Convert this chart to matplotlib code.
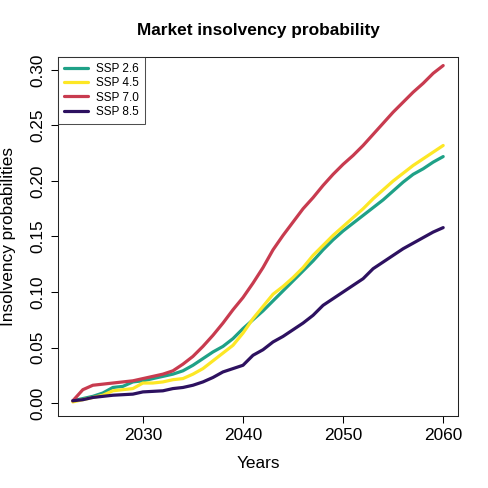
import matplotlib
matplotlib.use("Agg")
import matplotlib.pyplot as plt

plt.rcParams["font.family"] = ["Liberation Sans", "DejaVu Sans"]

years = list(range(2023, 2061))

ssp26 = [0.002, 0.004, 0.006, 0.009, 0.014, 0.015, 0.019, 0.020, 0.022, 0.024,
         0.026, 0.029, 0.034, 0.040, 0.046, 0.051, 0.058, 0.067, 0.075, 0.083,
         0.092, 0.101, 0.110, 0.119, 0.128, 0.138, 0.147, 0.155, 0.162, 0.169,
         0.176, 0.183, 0.191, 0.199, 0.206, 0.211, 0.217, 0.222]
ssp45 = [0.001, 0.003, 0.005, 0.007, 0.011, 0.012, 0.013, 0.018, 0.018, 0.019,
         0.021, 0.022, 0.026, 0.031, 0.038, 0.045, 0.052, 0.063, 0.076, 0.087,
         0.098, 0.105, 0.113, 0.122, 0.133, 0.142, 0.151, 0.159, 0.167, 0.175,
         0.184, 0.192, 0.200, 0.207, 0.214, 0.220, 0.226, 0.232]
ssp70 = [0.002, 0.012, 0.016, 0.017, 0.018, 0.019, 0.020, 0.022, 0.024, 0.026,
         0.029, 0.035, 0.042, 0.051, 0.061, 0.072, 0.084, 0.095, 0.108, 0.122,
         0.138, 0.151, 0.163, 0.175, 0.185, 0.196, 0.206, 0.215, 0.223, 0.232,
         0.242, 0.252, 0.262, 0.271, 0.280, 0.288, 0.297, 0.304]
ssp85 = [0.002, 0.003, 0.005, 0.006, 0.007, 0.0075, 0.008, 0.010, 0.0105, 0.011,
         0.013, 0.014, 0.016, 0.019, 0.023, 0.028, 0.031, 0.034, 0.043, 0.048,
         0.055, 0.060, 0.066, 0.072, 0.079, 0.088, 0.094, 0.100, 0.106, 0.112,
         0.121, 0.127, 0.133, 0.139, 0.144, 0.149, 0.154, 0.158]

series = [("SSP 2.6", ssp26, "#1FA187"),
          ("SSP 4.5", ssp45, "#FDE725"),
          ("SSP 7.0", ssp70, "#C83B4F"),
          ("SSP 8.5", ssp85, "#2D1160")]

x_ticks = [2030, 2040, 2050, 2060]
y_ticks = [0.00, 0.05, 0.10, 0.15, 0.20, 0.25, 0.30]

W = H = 488
fig = plt.figure(figsize=(W / 100, H / 100), dpi=100)
ax = fig.add_axes([58 / W, 1 - 416 / H, 400 / W, 359 / H])

for label, vals, col in series:
    ax.plot(years, vals, color=col, lw=2.3, label=label, solid_capstyle="round")

ax.set_xlim(2021.52, 2061.48)
ax.set_ylim(-0.0117, 0.3117)
ax.set_xticks(x_ticks)
ax.set_yticks(y_ticks)
ax.set_yticklabels([f"{v:.2f}" for v in y_ticks], rotation=90, va="center")
ax.tick_params(direction="out", length=5, width=0.75, labelsize=12.4, pad=4)
for s in ax.spines.values():
    s.set_linewidth(0.75)
    s.set_color("#222222")

ax.set_xlabel("Years", fontsize=12.4, va="center")
ax.xaxis.set_label_coords(0.5, (416 - 463) / 359)
ax.set_ylabel("Insolvency probabilities", fontsize=12.4, va="center")
ax.yaxis.set_label_coords((9 - 58) / 400, 0.5)

fig.text(258 / W, 1 - 31 / H, "Market insolvency probability",
         ha="center", va="center", fontsize=12.4, fontweight="bold")

leg = ax.legend(loc="upper left", bbox_to_anchor=(0, 1), borderaxespad=0,
                fontsize=8.5, handlelength=2.0, handletextpad=0.7,
                labelspacing=0.2, borderpad=0.5, fancybox=False)
leg.get_frame().set_edgecolor("#222222")
leg.get_frame().set_linewidth(0.75)

fig.savefig("out.png", dpi=100)
